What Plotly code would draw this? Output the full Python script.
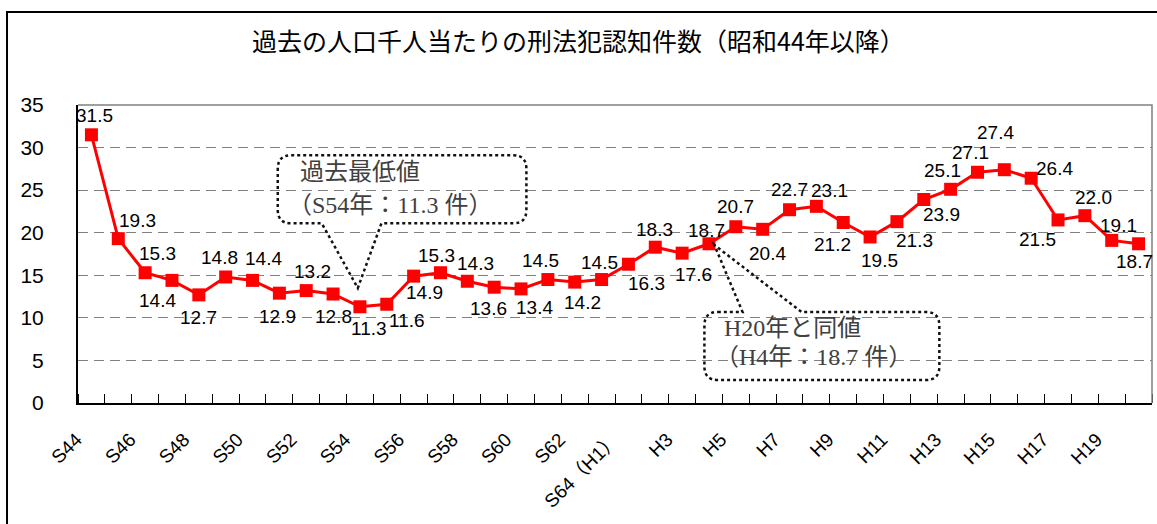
import plotly.graph_objects as go

# ---- data ----
years = ["S44","S45","S46","S47","S48","S49","S50","S51","S52","S53",
         "S54","S55","S56","S57","S58","S59","S60","S61","S62","S63",
         "S64（H1）","H2","H3","H4","H5","H6","H7","H8","H9","H10",
         "H11","H12","H13","H14","H15","H16","H17","H18","H19","H20"]
values = [31.5,19.3,15.3,14.4,12.7,14.8,14.4,12.9,13.2,12.8,
          11.3,11.6,14.9,15.3,14.3,13.6,13.4,14.5,14.2,14.5,
          16.3,18.3,17.6,18.7,20.7,20.4,22.7,23.1,21.2,19.5,
          21.3,23.9,25.1,27.1,27.4,26.4,21.5,22.0,19.1,18.7]
tick_labels = years[::2]
title_text = "過去の人口千人当たりの刑法犯認知件数（昭和44年以降）"
callout1 = ["過去最低値", "（S54年：11.3 件）"]
callout2 = ["H20年と同値", "（H4年：18.7 件）"]

# label offsets (px) for each value label
label_dx = [3,19,12,-14,0,-6,11,-2,6,0,9,20,11,-4,8,-6,13,-7,8,-2,
            18,-1,11,-2,0,5,0,13,-11,9,18,18,-8,-7,-9,23,-21,9,7,-4]
label_dy = [19,18,19,-20,-23,19,22,-23,19,-22,-22,-16,-16,17,18,-21,-19,19,-20,17,
            -19,18,-21,13,20,-24,20,16,-22,-24,-19,-15,19,20,37,10,-20,18,15,-18]

xs = list(range(len(years)))
pad = "\u00a0" * 4

fig = go.Figure()
fig.add_trace(go.Scatter(
    x=xs, y=values, mode="lines+markers",
    line=dict(color="#FF0000", width=3),
    marker=dict(symbol="square", size=13, color="#FF0000"),
    hoverinfo="skip", showlegend=False, cliponaxis=False))

annotations = []
for i, v in enumerate(values):
    annotations.append(dict(x=i, y=v, xref="x", yref="y", text=f"{v:.1f}",
                            showarrow=False, xshift=label_dx[i], yshift=label_dy[i],
                            font=dict(family="Liberation Sans, Arial", size=19, color="#000000")))

cfont = dict(family="Liberation Serif, Noto Sans CJK JP", size=24, color="#404040")
annotations += [
    dict(x=7.68, y=27.1, xref="x", yref="y", text=callout1[0], showarrow=False,
         xanchor="left", yanchor="middle", font=cfont),
    dict(x=7.25, y=23.3, xref="x", yref="y", text=callout1[1], showarrow=False,
         xanchor="left", yanchor="middle", font=cfont),
    dict(x=23.5, y=8.8, xref="x", yref="y", text=callout2[0], showarrow=False,
         xanchor="left", yanchor="middle", font=cfont),
    dict(x=23.15, y=5.4, xref="x", yref="y", text=callout2[1], showarrow=False,
         xanchor="left", yanchor="middle", font=cfont),
]

def box_bottom_pointer(x0, x1, yb, yt, px1, px2, tx, ty, rx, ry):
    return (f"M {x0+rx},{yt} L {x1-rx},{yt} Q {x1},{yt} {x1},{yt-ry} "
            f"L {x1},{yb+ry} Q {x1},{yb} {x1-rx},{yb} L {px2},{yb} L {tx},{ty} L {px1},{yb} "
            f"L {x0+rx},{yb} Q {x0},{yb} {x0},{yb+ry} L {x0},{yt-ry} Q {x0},{yt} {x0+rx},{yt} Z")

def box_top_pointer(x0, x1, yb, yt, px1, px2, tx, ty, rx, ry):
    return (f"M {x0+rx},{yt} L {px1},{yt} L {tx},{ty} L {px2},{yt} L {x1-rx},{yt} "
            f"Q {x1},{yt} {x1},{yt-ry} L {x1},{yb+ry} Q {x1},{yb} {x1-rx},{yb} "
            f"L {x0+rx},{yb} Q {x0},{yb} {x0},{yb+ry} L {x0},{yt-ry} Q {x0},{yt} {x0+rx},{yt} Z")

shapes = [
    dict(type="path", xref="paper", yref="paper", path="M 0,1 L 1,1 L 1,0",
         line=dict(color="#808080", width=1.5), layer="above"),
    dict(type="rect", xref="paper", yref="paper", x0=-0.0661, x1=1.02, y0=-0.45, y1=1.312,
         line=dict(color="#000000", width=2), layer="below"),
    dict(type="path", xref="x", yref="y",
         path=box_bottom_pointer(6.94, 16.2, 21.1, 29.1, 8.58, 10.8, 9.92, 13.5, 0.5, 1.6),
         line=dict(color="#111111", width=2.5, dash="dot"), layer="above"),
    dict(type="path", xref="x", yref="y",
         path=box_top_pointer(22.83, 31.58, 2.7, 10.69, 24.25, 26.45, 23.2, 18.56, 0.5, 1.6),
         line=dict(color="#111111", width=2.5, dash="dot"), layer="above"),
]

fig.update_layout(
    width=1157, height=524,
    margin=dict(l=78, r=5, t=105, b=121, autoexpand=False),
    paper_bgcolor="white", plot_bgcolor="white",
    title=dict(text=title_text, x=0.5, xanchor="center", y=1 - 42/524, yanchor="middle",
               font=dict(family="Noto Sans CJK JP", size=25, color="#000000")),
    annotations=annotations, shapes=shapes,
    xaxis=dict(range=[-0.5, 39.5], tickmode="array", tickvals=xs[::2],
               ticktext=[t + pad for t in tick_labels],
               tickangle=-45, ticks="", showgrid=False, zeroline=False, automargin=False,
               showline=True, linecolor="#000000", linewidth=2, ticklabelstandoff=1,
               tickfont=dict(family="Liberation Sans, Noto Sans CJK JP", size=19, color="#000000"),
               minor=dict(tickmode="array", tickvals=[i - 0.5 for i in range(41)],
                          ticks="inside", ticklen=9, tickcolor="#000000", tickwidth=1,
                          showgrid=False)),
    yaxis=dict(range=[0, 35], tickmode="linear", tick0=0, dtick=5, ticks="", automargin=False,
               showgrid=True, gridcolor="#808080", gridwidth=1, griddash="10px,6px",
               zeroline=False, showline=True, linecolor="#000000", linewidth=2,
               ticklabelstandoff=28,
               tickfont=dict(family="Liberation Sans, Arial", size=21, color="#000000")),
)

fig.write_html("out.html", config={"displayModeBar": False},
               post_script="document.body.style.margin='0';document.body.style.overflow='hidden';")
